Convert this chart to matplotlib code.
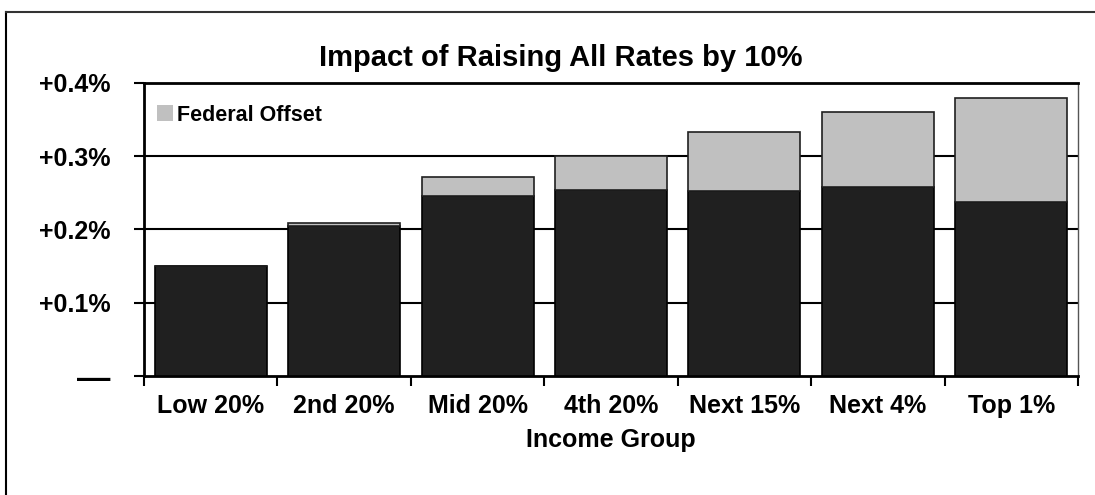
import matplotlib.pyplot as plt
import numpy as np
from matplotlib.lines import Line2D
from matplotlib.patches import Patch
from matplotlib.ticker import FixedLocator

# income groups and their impact (in % of income)
groups = ["Low 20%", "2nd 20%", "Mid 20%", "4th 20%", "Next 15%", "Next 4%", "Top 1%"]
net_impact = [0.150, 0.205, 0.246, 0.254, 0.253, 0.258, 0.237]
federal_offset = [0.000, 0.004, 0.025, 0.046, 0.080, 0.102, 0.142]
y_ticks = [0.0, 0.1, 0.2, 0.3, 0.4]
y_labels = ["\u2014", "+0.1%", "+0.2%", "+0.3%", "+0.4%"]

plt.rcParams['font.family'] = ['Liberation Sans', 'DejaVu Sans']
plt.rcParams['font.weight'] = 'bold'

fig = plt.figure(figsize=(10.95, 4.95), dpi=100)
ax = fig.add_axes([0.1315, 0.2404, 0.853, 0.592])

x = np.arange(len(groups))
ax.bar(x, net_impact, width=0.84, color='#202020', edgecolor='black', linewidth=1.2, zorder=3)
ax.bar(x, federal_offset, width=0.84, bottom=net_impact, color='#c0c0c0',
       edgecolor='#202020', linewidth=1.2, zorder=3)

ax.set_xlim(-0.5, len(groups) - 0.5)
ax.set_ylim(0, 0.4)

# gridlines
for yv in y_ticks[1:]:
    ax.axhline(yv, color='black', linewidth=1.5, zorder=1)

ax.set_yticks(y_ticks)
ax.set_yticklabels(y_labels, fontsize=18, fontweight='bold')
ax.tick_params(axis='y', length=7, width=1.5, direction='out', pad=17)
# the zero label is a wider dash
ax.get_yticklabels()[0].set_fontsize(24)

ax.set_xticks(x)
ax.set_xticklabels(groups, fontsize=18, fontweight='bold')
ax.tick_params(axis='x', which='major', length=0, pad=13)
ax.xaxis.set_minor_locator(FixedLocator(np.arange(-0.5, len(groups), 1.0)))
ax.tick_params(axis='x', which='minor', length=7, width=1.5, direction='out')

ax.set_xlabel("Income Group", fontsize=18, fontweight='bold', labelpad=7)

for side in ['left', 'bottom', 'top']:
    ax.spines[side].set_linewidth(2)
ax.spines['right'].set_linewidth(1)
ax.spines['right'].set_color('#555555')

handle = Patch(facecolor='#c0c0c0', edgecolor='none', label='Federal Offset')
leg = ax.legend(handles=[handle], loc='upper left', frameon=False, fontsize=15.5,
                handlelength=0.75, handleheight=0.75, handletextpad=0.2,
                borderaxespad=0.2, bbox_to_anchor=(0.0, 0.97))
for t in leg.get_texts():
    t.set_fontweight('bold')

fig.text(0.512, 0.882, "Impact of Raising All Rates by 10%", ha='center', va='center',
         fontsize=21, fontweight='bold')

# outer frame (top and left edges)
fig.add_artist(Line2D([6 / 1095, 6 / 1095], [0, 1 - 12 / 495], color='black', linewidth=1.5))
fig.add_artist(Line2D([6 / 1095, 1], [1 - 12 / 495, 1 - 12 / 495], color='#333333', linewidth=1.5))

fig.savefig("out.png", dpi=100)
